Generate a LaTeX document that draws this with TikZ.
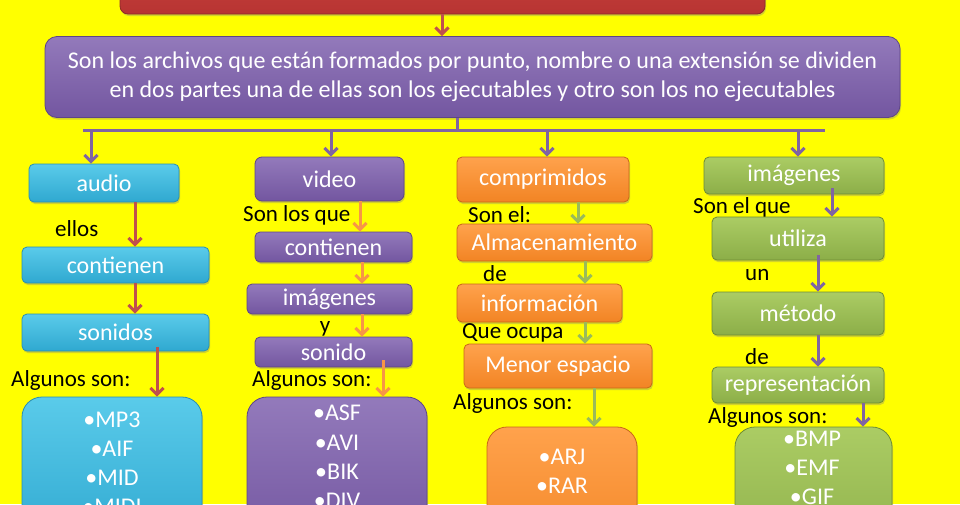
\documentclass[tikz,border=0pt]{standalone}
\usepackage{fontspec}
\setmainfont{Carlito}
\usetikzlibrary{arrows.meta,shadows}
\definecolor{bg}{HTML}{FFFF00}
\definecolor{cyantop}{HTML}{5ACBEA}\definecolor{cyanbot}{HTML}{2FA8D0}\definecolor{cyandk}{HTML}{2A8FB0}
\definecolor{purptop}{HTML}{937ABB}\definecolor{purpbot}{HTML}{7356A0}\definecolor{purpdk}{HTML}{5E4587}
\definecolor{orantop}{HTML}{FFA24C}\definecolor{oranbot}{HTML}{F28424}\definecolor{orandk}{HTML}{C86818}
\definecolor{greetop}{HTML}{ABCC64}\definecolor{greebot}{HTML}{8CAE48}\definecolor{greedk}{HTML}{6E8C34}
\definecolor{redtop}{HTML}{C8443F}\definecolor{redbot}{HTML}{B83432}\definecolor{reddk}{HTML}{8E2A28}
\definecolor{aRed}{HTML}{C0504D}\definecolor{aOra}{HTML}{F79646}\definecolor{aGre}{HTML}{9BBB59}\definecolor{aPur}{HTML}{8064A2}
\begin{document}
\begin{tikzpicture}[x=1pt,y=-1pt,
  box/.style={rounded corners=5pt, draw=#1dk, line width=0.8pt, top color=#1top, bottom color=#1bot,
    drop shadow={shadow xshift=1pt, shadow yshift=-2pt, opacity=0.35},
    text=white, font=\fontsize{24}{29}\selectfont, inner sep=0pt},
  listbox/.style={box=#1, rounded corners=20pt},
  itemtxt/.style={text=white, font=\fontsize{24}{29}\selectfont, inner sep=0pt},
  lbl/.style={anchor=west, text=black, font=\fontsize{23}{28}\selectfont, inner sep=0pt},
  arr/.style={draw=#1, line width=3pt, -{Straight Barb[length=6.5pt,width=13pt]}},
  pline/.style={draw=aPur, line width=3pt}
]
\useasboundingbox (0,0) rectangle (960,504);
\fill[bg] (0,0) rectangle (960,504);
\clip (0,0) rectangle (960,504);

% top and main
\node[box=red, rounded corners=8pt, minimum width=645, minimum height=60] (top) at (442.5,-16) {};
\node[box=purp, rounded corners=12pt, minimum width=855, minimum height=81, align=center,
      font=\fontsize{24}{29}\selectfont] (main) at (472.5,77)
  {Son los archivos que están formados por punto, nombre o una extensión se dividen\\
   en dos partes una de ellas son los ejecutables y otro son los no ejecutables};
\draw[arr=aRed] ([xshift=-0.5pt]top.south) -- ([xshift=-0.5pt]top.south |- main.north);

% column 1
\node[box=cyan, minimum width=150, minimum height=38] (audio) at (104,183) {audio};
\node[box=cyan, minimum width=187, minimum height=36] (c1) at (115.5,265) {contienen};
\node[box=cyan, minimum width=187, minimum height=37] (s1) at (115.5,332.5) {sonidos};
\node[listbox=cyan, minimum width=180, minimum height=150] (l1) at (112,472) {};
\node[itemtxt] (m1) at (112,420) {•MP3};
\node[itemtxt] (m2) at (112,449) {•AIF};
\node[itemtxt] (m3) at (112,478) {•MID};
\node[itemtxt] (m4) at (112,507) {•MIDI};
\node[lbl] (t11) at (55,229) {ellos};
\node[lbl] (t12) at (11,380) {Algunos son:};

% column 2
\node[box=purp, rounded corners=7pt, minimum width=149, minimum height=44] (video) at (329.5,179) {video};
\node[box=purp, minimum width=157, minimum height=30] (c2) at (333.5,247) {contienen};
\node[box=purp, minimum width=165, minimum height=30] (i2) at (329.5,299) {imágenes};
\node[box=purp, minimum width=157, minimum height=30] (so2) at (333.5,352) {sonido};
\node[listbox=purp, minimum width=180, minimum height=150] (l2) at (337,472) {};
\node[itemtxt] (v1) at (337,413) {•ASF};
\node[itemtxt] (v2) at (337,443) {•AVI};
\node[itemtxt] (v3) at (337,472) {•BIK};
\node[itemtxt] (v4) at (337,501) {•DIV};
\node[lbl] (t21) at (243,215) {Son los que};
\node[lbl, anchor=center] (t22) at (325,329) {y};
\node[lbl] (t23) at (252,380) {Algunos son:};

% column 3
\node[box=oran, minimum width=172, minimum height=45] (comp) at (543,179.5) {comprimidos};
\node[box=oran, minimum width=195, minimum height=37] (alm) at (554.5,242.5) {Almacenamiento};
\node[box=oran, minimum width=165, minimum height=38] (inf) at (539.5,303) {información};
\node[box=oran, minimum width=188, minimum height=44] (men) at (558,366) {Menor espacio};
\node[listbox=oran, minimum width=150, minimum height=140] (l3) at (562,497) {};
\node[itemtxt] (r1) at (562,457) {•ARJ};
\node[itemtxt] (r2) at (562,486) {•RAR};
\node[lbl] (t31) at (468,215) {Son el:};
\node[lbl] (t32) at (483,274) {de};
\node[lbl] (t33) at (462,333) {Que ocupa};
\node[lbl] (t34) at (453,403) {Algunos son:};

% column 4
\node[box=gree, minimum width=180, minimum height=37] (img) at (794,175.5) {imágenes};
\node[box=gree, minimum width=172, minimum height=43] (ut) at (798,238.5) {utiliza};
\node[box=gree, minimum width=172, minimum height=43] (met) at (798,313.5) {método};
\node[box=gree, minimum width=172, minimum height=36] (rep) at (798,385) {representación};
\node[listbox=gree, minimum width=157, minimum height=140] (l4) at (813.5,497) {};
\node[itemtxt] (g1) at (812,439) {•BMP};
\node[itemtxt] (g2) at (812,468) {•EMF};
\node[itemtxt] (g3) at (812,497) {•GIF};
\node[lbl] (t41) at (693,207) {Son el que};
\node[lbl] (t42) at (745,275) {un};
\node[lbl] (t43) at (745,357) {de};
\node[lbl] (t44) at (708,417) {Algunos son:};

% bar
\coordinate (bs) at (457,130);
\coordinate (bL) at (83,130);
\coordinate (bR) at (825,130);
\coordinate (b1) at (91,130);
\coordinate (b2) at (331,130);
\coordinate (b3) at (547,130);
\coordinate (b4) at (798,130);
\draw[pline] (bs |- main.south) -- (bs);
\draw[pline] (bL) -- (bR);
\draw[arr=aPur] (b1) -- (b1 |- audio.north);
\draw[arr=aPur] (b2) -- (b2 |- video.north);
\draw[arr=aPur] (b3) -- (b3 |- comp.north);
\draw[arr=aPur] (b4) -- (b4 |- img.north);

% column arrows
\draw[arr=aRed] ([xshift=31pt]audio.south) -- ([xshift=31pt]audio.south |- c1.north);
\draw[arr=aRed] ([xshift=19.5pt]c1.south) -- ([xshift=19.5pt]c1.south |- s1.north);
\draw[arr=aRed] ([xshift=41.5pt,yshift=4pt]s1.south) -- ([xshift=41.5pt]s1.south |- l1.north);

\draw[arr=aOra] ([xshift=30.5pt]video.south) -- ([xshift=30.5pt]video.south |- c2.north);
\draw[arr=aOra] ([xshift=28.5pt]c2.south) -- ([xshift=28.5pt]c2.south |- i2.north);
\draw[arr=aOra] ([xshift=32.5pt]i2.south) -- ([xshift=32.5pt]i2.south |- so2.north);
\draw[arr=aOra] ([xshift=49.5pt,yshift=7pt]so2.south) -- ([xshift=49.5pt]so2.south |- l2.north);

\draw[arr=aGre] ([xshift=35pt]comp.south) -- ([xshift=35pt]comp.south |- alm.north);
\draw[arr=aGre] ([xshift=30.5pt]alm.south) -- ([xshift=30.5pt]alm.south |- inf.north);
\draw[arr=aGre] ([xshift=45.5pt]inf.south) -- ([xshift=45.5pt]inf.south |- men.north);
\draw[arr=aGre] ([xshift=36pt]men.south) -- ([xshift=36pt]men.south |- l3.north);

\draw[arr=aPur] ([xshift=38pt,yshift=6pt]img.south) -- ([xshift=38pt]img.south |- ut.north);
\draw[arr=aPur] ([xshift=20pt,yshift=5pt]ut.south) -- ([xshift=20pt]ut.south |- met.north);
\draw[arr=aPur] ([xshift=20pt]met.south) -- ([xshift=20pt]met.south |- rep.north);
\draw[arr=aPur] ([xshift=65pt]rep.south) -- ([xshift=65pt]rep.south |- l4.north);
\end{tikzpicture}
\end{document}
